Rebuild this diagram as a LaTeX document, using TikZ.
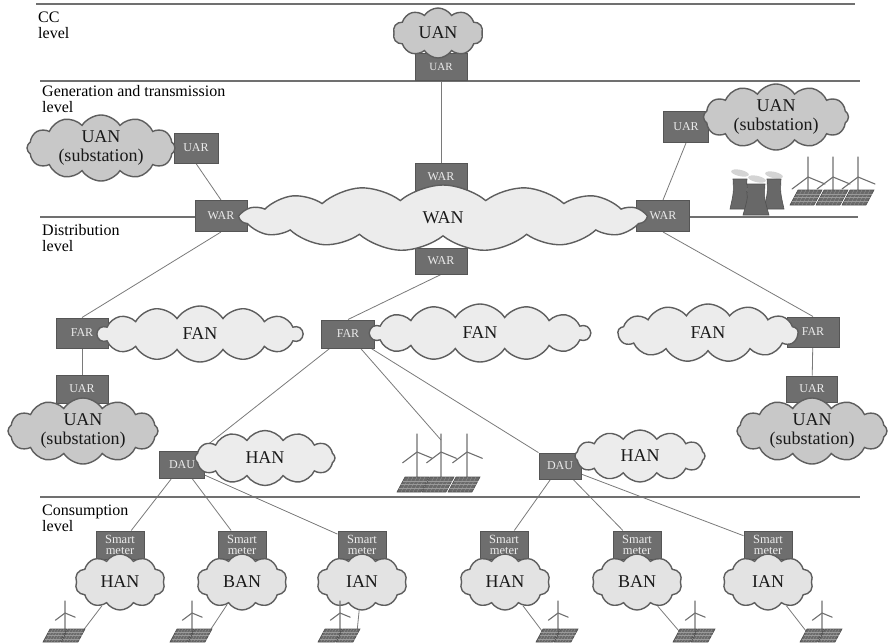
\documentclass[tikz,border=0pt]{standalone}
\usepackage{fontspec}
\setmainfont{Liberation Serif}
\usetikzlibrary{shapes.symbols,backgrounds}

\definecolor{boxgray}{HTML}{6E6E6E}
\definecolor{boxedge}{HTML}{555555}
\definecolor{boxtext}{HTML}{EBEBEB}
\definecolor{cloudedge}{HTML}{5E5E5E}
\definecolor{uanfill}{HTML}{C8C8C8}
\definecolor{netfill}{HTML}{ECECEC}
\definecolor{consfill}{HTML}{E3E3E3}
\definecolor{wirecol}{HTML}{7A7A7A}
\definecolor{levelcol}{HTML}{707070}
\definecolor{panelfill}{HTML}{6A6A6A}
\definecolor{paneledge}{HTML}{4E4E4E}
\definecolor{panelgrid}{HTML}{9A9A9A}
\definecolor{mastcol}{HTML}{A4A4A4}
\definecolor{bladecol}{HTML}{707070}
\definecolor{towerfill}{HTML}{686868}
\definecolor{toweredge}{HTML}{505050}
\definecolor{smokecol}{HTML}{D4D4D4}

\tikzset{
  router/.style={rectangle, draw=boxedge, line width=1pt, fill=boxgray, text=boxtext,
    font=\fontsize{12}{12}\selectfont, inner sep=0pt, minimum width=52pt,
    minimum height=28pt, align=center},
  net/.style={cloud, cloud puffs=12, cloud puff arc=115, cloud ignores aspect,
    draw=cloudedge, line width=1.4pt, fill=netfill, text=black!90,
    font=\fontsize{18}{19}\selectfont, align=center, inner sep=0pt},
  uan/.style={net, fill=uanfill},
  cons/.style={net, fill=consfill, cloud puffs=10, minimum width=90pt, minimum height=56pt},
  meter/.style={router, minimum width=48pt, minimum height=28pt,
    font=\fontsize{12.5}{11.5}\selectfont},
  wire/.style={draw=wirecol, line width=0.8pt},
  levelline/.style={draw=levelcol, line width=1.8pt},
  lvltext/.style={anchor=north west, align=left, inner sep=0pt,
    font=\fontsize{16}{16}\selectfont},
  % wind turbine: hub height, blade length
  pics/turbine/.style n args={2}{code={
    \draw[mastcol, line width=1.5pt] (0,0) -- (0,-#1);
    \draw[bladecol, line width=1.1pt, line cap=round]
      (0,-#1) -- ++(0,{-#2})
      (0,-#1) -- ++({-0.8*#2},{0.6*#2})
      (0,-#1) -- ++({0.85*#2},{0.35*#2});
  }},
  % solar panel: width, height, slant
  pics/panel/.style n args={3}{code={
    \filldraw[fill=panelfill, draw=paneledge, line width=0.6pt]
      (0,0) -- (#1,0) -- ({#1+#3},-#2) -- (#3,-#2) -- cycle;
    \foreach \k in {1,2,3,4,5}
      \draw[panelgrid, line width=0.3pt] ({\k*#1/6},0) -- ({\k*#1/6+#3},-#2);
    \foreach \k in {1,2,3}
      \draw[panelgrid, line width=0.3pt] ({\k*#3/4},{-\k*#2/4}) -- ({#1+\k*#3/4},{-\k*#2/4});
  }},
  % cooling tower: half bottom width, half top width, height
  pics/tower/.style n args={3}{code={
    \filldraw[fill=towerfill, draw=toweredge, line width=0.6pt]
      (-#1,0) .. controls ({-#2*0.9},{-#3*0.55}) .. (-#2,-#3) -- (#2,-#3)
      .. controls ({#2*0.9},{-#3*0.55}) .. (#1,0) -- cycle;
  }},
  % small generator group: one turbine over two panels
  pics/smallgen/.style={code={
    \pic at (22,-6) {turbine={23}{12}};
    \pic at (0,0) {panel={17}{13}{7}};
    \pic at (18,0) {panel={17}{13}{7}};
  }},
}

\begin{document}
\begin{tikzpicture}[x=1pt,y=-1pt]
\useasboundingbox (0,0) rectangle (889,643);

% level separators
\draw[levelline] (36,4) -- (855,4);
\draw[levelline] (40,81) -- (860,81);
\draw[levelline] (40,217) -- (858,217);
\draw[levelline] (40,497) -- (860,497);

% level captions
\node[lvltext] (lvlCC) at (38,12) {CC\\level};
\node[lvltext] (lvlGT) at (42,85) {Generation and transmission\\level};
\node[lvltext] (lvlDist) at (42,224) {Distribution\\level};
\node[lvltext] (lvlCons) at (42,505) {Consumption\\level};

% attachment points of generator icons
\coordinate (genMid) at (441,440);
\coordinate (g1) at (82,632);
\coordinate (g2) at (209,632);
\coordinate (g3) at (357,632);
\coordinate (g4) at (542,631);
\coordinate (g5) at (679,631);
\coordinate (g6) at (806,631);

% routers and gateways
\node[router, minimum height=27pt, font=\fontsize{11}{11}\selectfont] (uarTop) at (441,67) {UAR};
\node[router, minimum height=27pt] (warTop) at (441,177) {WAR};
\node[router, minimum height=26pt] (warBot) at (441,261) {WAR};
\node[router, minimum height=31pt] (warL) at (221,216) {WAR};
\node[router, minimum height=31pt, minimum width=53pt] (warR) at (663,216) {WAR};
\node[router, minimum width=44pt, minimum height=30pt] (uarL) at (196,148) {UAR};
\node[router, minimum width=45pt, minimum height=31pt] (uarR) at (686,127) {UAR};
\node[router, minimum height=30pt] (farL) at (82,333) {FAR};
\node[router, minimum width=53pt] (farM) at (348,334) {FAR};
\node[router, minimum height=30pt] (farR) at (813,332) {FAR};
\node[router] (uarDL) at (82,389) {UAR};
\node[router, minimum width=51pt, minimum height=26pt] (uarDR) at (812,389) {UAR};
\node[router, minimum width=45pt, minimum height=27pt] (dauL) at (182,465) {DAU};
\node[router, minimum width=42pt, minimum height=26pt] (dauR) at (560,466) {DAU};
\node[meter] (sm1) at (120,545) {Smart\\meter};
\node[meter] (sm2) at (242,545) {Smart\\meter};
\node[meter] (sm3) at (362,545) {Smart\\meter};
\node[meter] (sm4) at (504,545) {Smart\\meter};
\node[meter] (sm5) at (637,545) {Smart\\meter};
\node[meter] (sm6) at (768,545) {Smart\\meter};

% networks
\node[uan, cloud puffs=10, minimum width=90pt, minimum height=50pt] (uanTop) at (438,33) {UAN};
\node[net, cloud puffs=15, cloud puff arc=80, minimum width=405pt, minimum height=66pt] (wan) at (443,218) {WAN};
\node[uan, minimum width=148pt, minimum height=66pt] (uanSubL) at (101,148) {UAN\\(substation)};
\node[uan, minimum width=145pt, minimum height=66pt] (uanSubR) at (776,117) {UAN\\(substation)};
\node[net, cloud puffs=14, minimum width=205pt, minimum height=56pt] (fanL) at (200,334) {FAN};
\node[net, cloud puffs=14, minimum width=220pt, minimum height=58pt] (fanM) at (480,333) {FAN};
\node[net, cloud puffs=13, minimum width=180pt, minimum height=58pt] (fanR) at (708,333) {FAN};
\node[uan, minimum width=150pt, minimum height=66pt] (uanSubDL) at (83,431) {UAN\\(substation)};
\node[uan, minimum width=150pt, minimum height=66pt] (uanSubDR) at (812,431) {UAN\\(substation)};
\node[net, minimum width=140pt, minimum height=55pt] (hanL) at (265,458) {HAN};
\node[net, minimum width=130pt, minimum height=52pt] (hanR) at (640,456) {HAN};
\node[cons] (c1) at (120,582) {HAN};
\node[cons] (c2) at (242,582) {BAN};
\node[cons] (c3) at (362,582) {IAN};
\node[cons] (c4) at (505,582) {HAN};
\node[cons] (c5) at (637,582) {BAN};
\node[cons] (c6) at (768,582) {IAN};

% links, kept behind boxes and clouds
\begin{pgfonlayer}{background}
\draw[wire] (uarTop) -- (warTop);
\draw[wire] (uarL.south) -- (warL.north);
\draw[wire] (uarR.south) -- (warR.north);
\draw[wire] (warL.south) -- (farL.north);
\draw[wire] (warBot.south) -- (farM.north);
\draw[wire] (warR.south) -- (farR.north);
\draw[wire] (farL) -- (uarDL);
\draw[wire] (farR) -- (uarDR);
\draw[wire] (farM) -- (dauL);
\draw[wire] (farM) -- (genMid);
\draw[wire] (farM) -- (dauR);
\draw[wire] (dauL) -- (sm1);
\draw[wire] (dauL) -- (sm2);
\draw[wire] (dauL) -- (sm3);
\draw[wire] (dauR) -- (sm4);
\draw[wire] (dauR) -- (sm5);
\draw[wire] (dauR) -- (sm6);
\draw[wire] (c1) -- (g1);
\draw[wire] (c2) -- (g2);
\draw[wire] (c3) -- (g3);
\draw[wire] (c4) -- (g4);
\draw[wire] (c5) -- (g5);
\draw[wire] (c6) -- (g6);
\end{pgfonlayer}

% power plant with cooling towers
\foreach \sx/\sy in {740/173, 757/179, 774/175}
  \fill[smokecol, rotate around={-12:(\sx,\sy)}] (\sx,\sy) ellipse (9pt and 3.2pt);
\pic at (740,209) {tower={10}{7}{30}};
\pic at (774,209) {tower={10}{7}{30}};
\pic at (756,215) {tower={13}{9}{31}};

% wind and solar park, generation level
\foreach \tx in {808,833,858} \pic at (\tx,200) {turbine={23}{20}};
\foreach \px in {790,816,842} \pic at (\px,205) {panel={24}{15}{8}};

% wind and solar park, distribution level
\foreach \tx in {417,441,467} \pic at (\tx,485) {turbine={33}{18}};
\foreach \px in {397,422,448} \pic at (\px,492) {panel={24}{15}{8}};

% local generation at the premises
\pic at (43,642) {smallgen};
\pic at (170,642) {smallgen};
\pic at (318,642) {smallgen};
\pic at (536,642) {smallgen};
\pic at (673,642) {smallgen};
\pic at (800,642) {smallgen};
\end{tikzpicture}
\end{document}
